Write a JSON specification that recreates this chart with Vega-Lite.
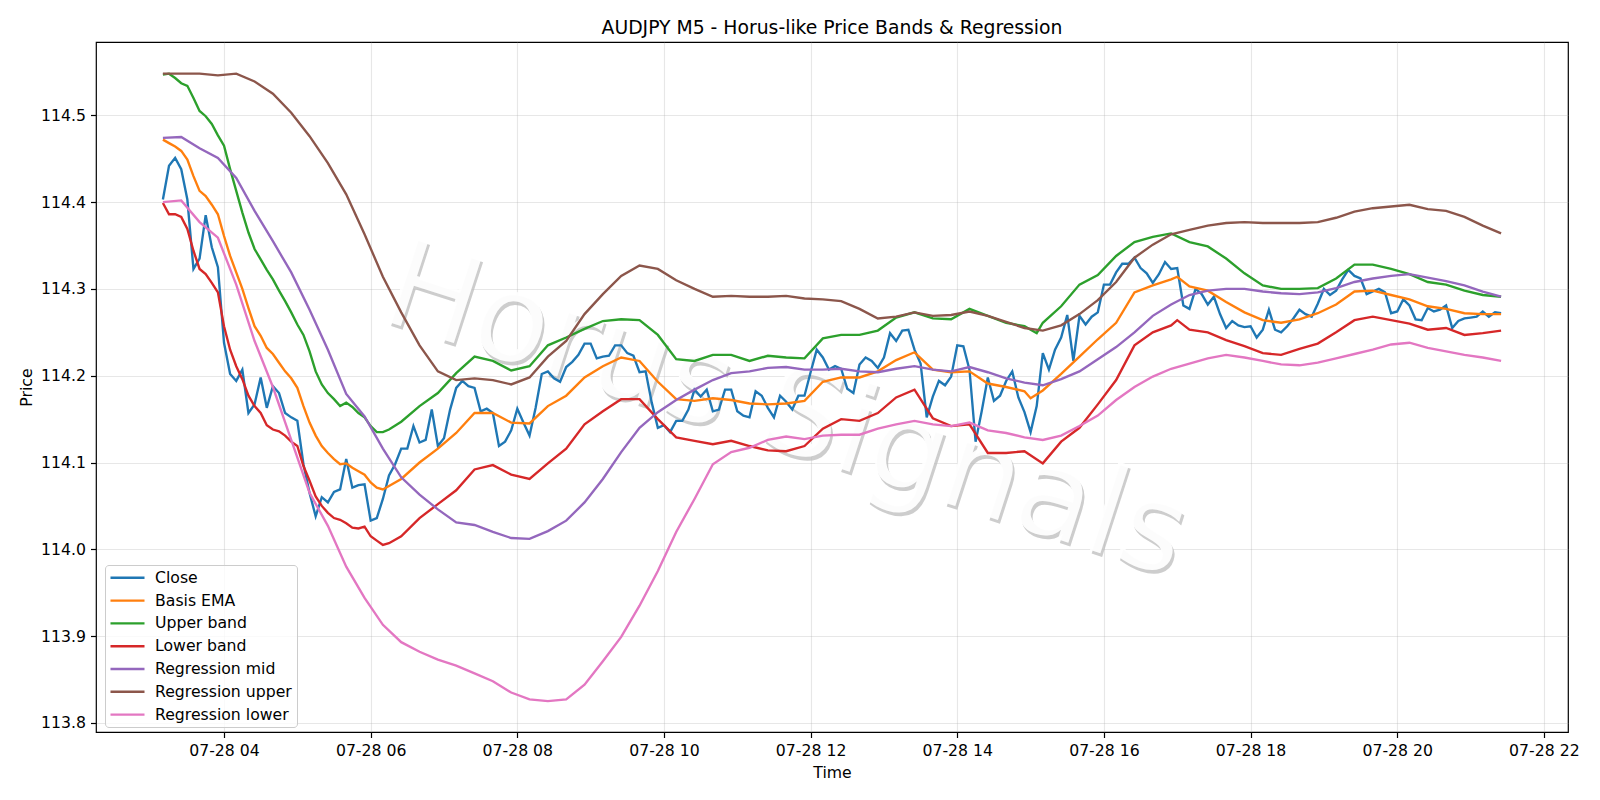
{
"$schema": "https://vega.github.io/schema/vega-lite/v6.json",
"width": 1472, "height": 690,
"autosize": {"type": "none"},
"padding": {"left": 96, "top": 42, "right": 32, "bottom": 68},
"background": "white",
"title": {"text": "AUDJPY M5 - Horus-like Price Bands & Regression", "fontSize": 18.8, "fontWeight": "normal", "font": "DejaVu Sans", "color": "black", "offset": 4, "anchor": "middle"},
"config": {
  "font": "DejaVu Sans",
  "view": {"stroke": "black", "strokeWidth": 1.2},
  "axis": {"domain": false, "grid": true, "gridColor": "#b0b0b0", "gridOpacity": 0.3, "gridWidth": 1.1, "tickColor": "black", "tickSize": 5.5, "tickWidth": 1.2, "labelFontSize": 15.7, "labelColor": "black", "labelFont": "DejaVu Sans", "titleFont": "DejaVu Sans", "titleFontSize": 15.7, "titleFontWeight": "normal", "titleColor": "black"},
  "legend": {"orient": "none", "legendX": 9, "legendY": 523, "symbolType": "M-2.43,0L2.43,0", "symbolSize": 196, "symbolStrokeWidth": 2.36, "symbolFillColor": "transparent", "symbolOffset": 9.7, "labelOffset": 19, "labelFontSize": 15.7, "labelFont": "DejaVu Sans", "labelColor": "black", "rowPadding": 5.8, "padding": 4.3, "fillColor": "rgba(255,255,255,0.8)", "strokeColor": "#cccccc", "cornerRadius": 3.5, "labelLimit": 300}
},
"datasets": {
"wm": [{"t": "2025-07-28T11:40", "v": 114.158, "label": "Horus Signals"}],
"d": [
{"t":"2025-07-28T03:10","Close":114.403,"Basis EMA":114.472,"Upper band":114.547,"Lower band":114.399,"Regression mid":114.474,"Regression upper":114.548,"Regression lower":114.400},
{"t":"2025-07-28T03:15","Close":114.442,"Basis EMA":114.468,"Upper band":114.548,"Lower band":114.386},
{"t":"2025-07-28T03:20","Close":114.451,"Basis EMA":114.464,"Upper band":114.543,"Lower band":114.386},
{"t":"2025-07-28T03:25","Close":114.438,"Basis EMA":114.459,"Upper band":114.537,"Lower band":114.383,"Regression mid":114.475,"Regression upper":114.548,"Regression lower":114.402},
{"t":"2025-07-28T03:30","Close":114.403,"Basis EMA":114.449,"Upper band":114.534,"Lower band":114.369},
{"t":"2025-07-28T03:35","Close":114.323,"Basis EMA":114.430,"Upper band":114.520,"Lower band":114.344},
{"t":"2025-07-28T03:40","Close":114.335,"Basis EMA":114.413,"Upper band":114.505,"Lower band":114.323,"Regression mid":114.462,"Regression upper":114.548,"Regression lower":114.377},
{"t":"2025-07-28T03:45","Close":114.385,"Basis EMA":114.407,"Upper band":114.499,"Lower band":114.317},
{"t":"2025-07-28T03:50","Close":114.348,"Basis EMA":114.397,"Upper band":114.490,"Lower band":114.307},
{"t":"2025-07-28T03:55","Close":114.325,"Basis EMA":114.386,"Upper band":114.477,"Lower band":114.296,"Regression mid":114.451,"Regression upper":114.546,"Regression lower":114.359},
{"t":"2025-07-28T04:00","Close":114.238,"Basis EMA":114.361,"Upper band":114.465,"Lower band":114.257},
{"t":"2025-07-28T04:05","Close":114.202,"Basis EMA":114.338,"Upper band":114.438,"Lower band":114.230},
{"t":"2025-07-28T04:10","Close":114.194,"Basis EMA":114.319,"Upper band":114.413,"Lower band":114.211,"Regression mid":114.428,"Regression upper":114.548,"Regression lower":114.305},
{"t":"2025-07-28T04:15","Close":114.207,"Basis EMA":114.300,"Upper band":114.388,"Lower band":114.196},
{"t":"2025-07-28T04:20","Close":114.157,"Basis EMA":114.278,"Upper band":114.365,"Lower band":114.177},
{"t":"2025-07-28T04:25","Close":114.167,"Basis EMA":114.257,"Upper band":114.346,"Lower band":114.165,"Regression mid":114.390,"Regression upper":114.539,"Regression lower":114.240},
{"t":"2025-07-28T04:30","Close":114.198,"Basis EMA":114.246,"Upper band":114.334,"Lower band":114.157},
{"t":"2025-07-28T04:35","Close":114.163,"Basis EMA":114.232,"Upper band":114.322,"Lower band":114.143},
{"t":"2025-07-28T04:40","Close":114.188,"Basis EMA":114.225,"Upper band":114.311,"Lower band":114.138,"Regression mid":114.355,"Regression upper":114.525,"Regression lower":114.187},
{"t":"2025-07-28T04:45","Close":114.180,"Basis EMA":114.215,"Upper band":114.298,"Lower band":114.136},
{"t":"2025-07-28T04:50","Close":114.157,"Basis EMA":114.205,"Upper band":114.286,"Lower band":114.131},
{"t":"2025-07-28T04:55","Close":114.152,"Basis EMA":114.197,"Upper band":114.273,"Lower band":114.124,"Regression mid":114.319,"Regression upper":114.503,"Regression lower":114.126},
{"t":"2025-07-28T05:00","Close":114.148,"Basis EMA":114.186,"Upper band":114.259,"Lower band":114.119},
{"t":"2025-07-28T05:05","Close":114.098,"Basis EMA":114.165,"Upper band":114.247,"Lower band":114.096},
{"t":"2025-07-28T05:10","Close":114.065,"Basis EMA":114.146,"Upper band":114.228,"Lower band":114.079,"Regression mid":114.276,"Regression upper":114.476,"Regression lower":114.065},
{"t":"2025-07-28T05:15","Close":114.038,"Basis EMA":114.131,"Upper band":114.205,"Lower band":114.061},
{"t":"2025-07-28T05:20","Close":114.060,"Basis EMA":114.119,"Upper band":114.190,"Lower band":114.050},
{"t":"2025-07-28T05:25","Close":114.054,"Basis EMA":114.111,"Upper band":114.180,"Lower band":114.042,"Regression mid":114.230,"Regression upper":114.445,"Regression lower":114.027},
{"t":"2025-07-28T05:30","Close":114.066,"Basis EMA":114.104,"Upper band":114.173,"Lower band":114.036},
{"t":"2025-07-28T05:35","Close":114.069,"Basis EMA":114.098,"Upper band":114.165,"Lower band":114.034},
{"t":"2025-07-28T05:40","Close":114.104,"Basis EMA":114.099,"Upper band":114.169,"Lower band":114.030,"Regression mid":114.179,"Regression upper":114.409,"Regression lower":113.980},
{"t":"2025-07-28T05:45","Close":114.071,"Basis EMA":114.094,"Upper band":114.164,"Lower band":114.025},
{"t":"2025-07-28T05:50","Close":114.074,"Basis EMA":114.090,"Upper band":114.157,"Lower band":114.024},
{"t":"2025-07-28T05:55","Close":114.075,"Basis EMA":114.086,"Upper band":114.152,"Lower band":114.026,"Regression mid":114.153,"Regression upper":114.363,"Regression lower":113.944},
{"t":"2025-07-28T06:00","Close":114.033,"Basis EMA":114.077,"Upper band":114.142,"Lower band":114.015},
{"t":"2025-07-28T06:05","Close":114.036,"Basis EMA":114.071,"Upper band":114.135,"Lower band":114.010},
{"t":"2025-07-28T06:10","Close":114.058,"Basis EMA":114.069,"Upper band":114.135,"Lower band":114.005,"Regression mid":114.116,"Regression upper":114.314,"Regression lower":113.913},
{"t":"2025-07-28T06:15","Close":114.085,"Basis EMA":114.073,"Upper band":114.138,"Lower band":114.007},
{"t":"2025-07-28T06:20","Close":114.098},
{"t":"2025-07-28T06:25","Close":114.116,"Basis EMA":114.081,"Upper band":114.147,"Lower band":114.015,"Regression mid":114.083,"Regression upper":114.273,"Regression lower":113.893},
{"t":"2025-07-28T06:30","Close":114.116},
{"t":"2025-07-28T06:35","Close":114.142},
{"t":"2025-07-28T06:40","Close":114.123,"Basis EMA":114.100,"Upper band":114.165,"Lower band":114.036,"Regression mid":114.063,"Regression upper":114.235,"Regression lower":113.882},
{"t":"2025-07-28T06:45","Close":114.126},
{"t":"2025-07-28T06:50","Close":114.161},
{"t":"2025-07-28T06:55","Close":114.119,"Basis EMA":114.116,"Upper band":114.180,"Lower band":114.052,"Regression mid":114.046,"Regression upper":114.205,"Regression lower":113.873},
{"t":"2025-07-28T07:00","Close":114.128},
{"t":"2025-07-28T07:05","Close":114.161},
{"t":"2025-07-28T07:10","Close":114.186,"Basis EMA":114.134,"Upper band":114.203,"Lower band":114.068,"Regression mid":114.031,"Regression upper":114.195,"Regression lower":113.866},
{"t":"2025-07-28T07:15","Close":114.194},
{"t":"2025-07-28T07:20","Close":114.188},
{"t":"2025-07-28T07:25","Close":114.186,"Basis EMA":114.157,"Upper band":114.222,"Lower band":114.092,"Regression mid":114.028,"Regression upper":114.197,"Regression lower":113.857},
{"t":"2025-07-28T07:30","Close":114.159},
{"t":"2025-07-28T07:35","Close":114.162},
{"t":"2025-07-28T07:40","Close":114.157,"Basis EMA":114.157,"Upper band":114.217,"Lower band":114.097,"Regression mid":114.020,"Regression upper":114.195,"Regression lower":113.848},
{"t":"2025-07-28T07:45","Close":114.119},
{"t":"2025-07-28T07:50","Close":114.124},
{"t":"2025-07-28T07:55","Close":114.137,"Basis EMA":114.146,"Upper band":114.206,"Lower band":114.086,"Regression mid":114.013,"Regression upper":114.190,"Regression lower":113.835},
{"t":"2025-07-28T08:00","Close":114.162},
{"t":"2025-07-28T08:05","Close":114.146},
{"t":"2025-07-28T08:10","Close":114.131,"Basis EMA":114.145,"Upper band":114.211,"Lower band":114.081,"Regression mid":114.012,"Regression upper":114.198,"Regression lower":113.827},
{"t":"2025-07-28T08:15","Close":114.163},
{"t":"2025-07-28T08:20","Close":114.202},
{"t":"2025-07-28T08:25","Close":114.205,"Basis EMA":114.165,"Upper band":114.235,"Lower band":114.099,"Regression mid":114.021,"Regression upper":114.222,"Regression lower":113.825},
{"t":"2025-07-28T08:30","Close":114.197},
{"t":"2025-07-28T08:35","Close":114.193},
{"t":"2025-07-28T08:40","Close":114.210,"Basis EMA":114.177,"Upper band":114.244,"Lower band":114.116,"Regression mid":114.033,"Regression upper":114.240,"Regression lower":113.827},
{"t":"2025-07-28T08:45","Close":114.216},
{"t":"2025-07-28T08:50","Close":114.224},
{"t":"2025-07-28T08:55","Close":114.237,"Basis EMA":114.198,"Upper band":114.254,"Lower band":114.144,"Regression mid":114.054,"Regression upper":114.271,"Regression lower":113.844},
{"t":"2025-07-28T09:00","Close":114.237},
{"t":"2025-07-28T09:05","Close":114.220},
{"t":"2025-07-28T09:10","Close":114.222,"Basis EMA":114.211,"Upper band":114.263,"Lower band":114.159,"Regression mid":114.081,"Regression upper":114.294,"Regression lower":113.871},
{"t":"2025-07-28T09:15","Close":114.223},
{"t":"2025-07-28T09:20","Close":114.235},
{"t":"2025-07-28T09:25","Close":114.235,"Basis EMA":114.221,"Upper band":114.265,"Lower band":114.173,"Regression mid":114.112,"Regression upper":114.315,"Regression lower":113.899},
{"t":"2025-07-28T09:30","Close":114.226},
{"t":"2025-07-28T09:35","Close":114.223},
{"t":"2025-07-28T09:40","Close":114.204,"Basis EMA":114.217,"Upper band":114.264,"Lower band":114.173,"Regression mid":114.140,"Regression upper":114.327,"Regression lower":113.935},
{"t":"2025-07-28T09:45","Close":114.205},
{"t":"2025-07-28T09:50","Close":114.169},
{"t":"2025-07-28T09:55","Close":114.140,"Basis EMA":114.193,"Upper band":114.247,"Lower band":114.150,"Regression mid":114.158,"Regression upper":114.323,"Regression lower":113.975},
{"t":"2025-07-28T10:00","Close":114.143},
{"t":"2025-07-28T10:05","Close":114.135},
{"t":"2025-07-28T10:10","Close":114.148,"Basis EMA":114.173,"Upper band":114.219,"Lower band":114.129,"Regression mid":114.172,"Regression upper":114.310,"Regression lower":114.020},
{"t":"2025-07-28T10:15","Close":114.148},
{"t":"2025-07-28T10:20","Close":114.161},
{"t":"2025-07-28T10:25","Close":114.184,"Basis EMA":114.171,"Upper band":114.217,"Lower band":114.125,"Regression mid":114.184,"Regression upper":114.300,"Regression lower":114.058},
{"t":"2025-07-28T10:30","Close":114.176},
{"t":"2025-07-28T10:35","Close":114.184},
{"t":"2025-07-28T10:40","Close":114.159,"Basis EMA":114.174,"Upper band":114.224,"Lower band":114.121,"Regression mid":114.195,"Regression upper":114.291,"Regression lower":114.098},
{"t":"2025-07-28T10:45","Close":114.161},
{"t":"2025-07-28T10:50","Close":114.184},
{"t":"2025-07-28T10:55","Close":114.184,"Basis EMA":114.172,"Upper band":114.224,"Lower band":114.125,"Regression mid":114.203,"Regression upper":114.292,"Regression lower":114.112},
{"t":"2025-07-28T11:00","Close":114.159},
{"t":"2025-07-28T11:05","Close":114.154},
{"t":"2025-07-28T11:10","Close":114.152,"Basis EMA":114.168,"Upper band":114.217,"Lower band":114.119,"Regression mid":114.205,"Regression upper":114.291,"Regression lower":114.117},
{"t":"2025-07-28T11:15","Close":114.182},
{"t":"2025-07-28T11:20","Close":114.177},
{"t":"2025-07-28T11:25","Close":114.163,"Basis EMA":114.167,"Upper band":114.223,"Lower band":114.114,"Regression mid":114.209,"Regression upper":114.291,"Regression lower":114.126},
{"t":"2025-07-28T11:30","Close":114.152},
{"t":"2025-07-28T11:35","Close":114.177},
{"t":"2025-07-28T11:40","Close":114.170,"Basis EMA":114.168,"Upper band":114.221,"Lower band":114.113,"Regression mid":114.210,"Regression upper":114.292,"Regression lower":114.130},
{"t":"2025-07-28T11:45","Close":114.161},
{"t":"2025-07-28T11:50","Close":114.177},
{"t":"2025-07-28T11:55","Close":114.177,"Basis EMA":114.171,"Upper band":114.220,"Lower band":114.119,"Regression mid":114.207,"Regression upper":114.289,"Regression lower":114.127},
{"t":"2025-07-28T12:00","Close":114.204},
{"t":"2025-07-28T12:05","Close":114.230},
{"t":"2025-07-28T12:10","Close":114.221,"Basis EMA":114.193,"Upper band":114.243,"Lower band":114.139,"Regression mid":114.207,"Regression upper":114.288,"Regression lower":114.131},
{"t":"2025-07-28T12:15","Close":114.207},
{"t":"2025-07-28T12:20","Close":114.211},
{"t":"2025-07-28T12:25","Close":114.208,"Basis EMA":114.198,"Upper band":114.247,"Lower band":114.150,"Regression mid":114.208,"Regression upper":114.286,"Regression lower":114.132},
{"t":"2025-07-28T12:30","Close":114.185},
{"t":"2025-07-28T12:35","Close":114.180},
{"t":"2025-07-28T12:40","Close":114.213,"Basis EMA":114.198,"Upper band":114.247,"Lower band":114.148,"Regression mid":114.205,"Regression upper":114.277,"Regression lower":114.132},
{"t":"2025-07-28T12:45","Close":114.221},
{"t":"2025-07-28T12:50","Close":114.217},
{"t":"2025-07-28T12:55","Close":114.209,"Basis EMA":114.205,"Upper band":114.252,"Lower band":114.157,"Regression mid":114.204,"Regression upper":114.266,"Regression lower":114.139},
{"t":"2025-07-28T13:00","Close":114.221},
{"t":"2025-07-28T13:05","Close":114.249},
{"t":"2025-07-28T13:10","Close":114.240,"Basis EMA":114.218,"Upper band":114.267,"Lower band":114.175,"Regression mid":114.208,"Regression upper":114.268,"Regression lower":114.144},
{"t":"2025-07-28T13:15","Close":114.252},
{"t":"2025-07-28T13:20","Close":114.253},
{"t":"2025-07-28T13:25","Close":114.230,"Basis EMA":114.227,"Upper band":114.273,"Lower band":114.184,"Regression mid":114.211,"Regression upper":114.273,"Regression lower":114.148},
{"t":"2025-07-28T13:30","Close":114.214},
{"t":"2025-07-28T13:35","Close":114.152},
{"t":"2025-07-28T13:40","Close":114.176,"Basis EMA":114.207,"Upper band":114.266,"Lower band":114.151,"Regression mid":114.207,"Regression upper":114.269,"Regression lower":114.144},
{"t":"2025-07-28T13:45","Close":114.194},
{"t":"2025-07-28T13:50","Close":114.189},
{"t":"2025-07-28T13:55","Close":114.199,"Basis EMA":114.204,"Upper band":114.265,"Lower band":114.142,"Regression mid":114.205,"Regression upper":114.270,"Regression lower":114.142},
{"t":"2025-07-28T14:00","Close":114.235},
{"t":"2025-07-28T14:05","Close":114.234},
{"t":"2025-07-28T14:10","Close":114.207,"Basis EMA":114.205,"Upper band":114.277,"Lower band":114.144,"Regression mid":114.210,"Regression upper":114.274,"Regression lower":114.146},
{"t":"2025-07-28T14:15","Close":114.124},
{"t":"2025-07-28T14:20","Close":114.159},
{"t":"2025-07-28T14:25","Close":114.198,"Basis EMA":114.191,"Upper band":114.269,"Lower band":114.111,"Regression mid":114.204,"Regression upper":114.269,"Regression lower":114.137},
{"t":"2025-07-28T14:30","Close":114.171},
{"t":"2025-07-28T14:35","Close":114.177},
{"t":"2025-07-28T14:40","Close":114.194,"Basis EMA":114.187,"Upper band":114.261,"Lower band":114.111,"Regression mid":114.197,"Regression upper":114.262,"Regression lower":114.134},
{"t":"2025-07-28T14:45","Close":114.205},
{"t":"2025-07-28T14:50","Close":114.175},
{"t":"2025-07-28T14:55","Close":114.158,"Basis EMA":114.182,"Upper band":114.257,"Lower band":114.113,"Regression mid":114.192,"Regression upper":114.255,"Regression lower":114.129},
{"t":"2025-07-28T15:00","Close":114.135,"Basis EMA":114.174},
{"t":"2025-07-28T15:05","Close":114.165,"Upper band":114.249},
{"t":"2025-07-28T15:10","Close":114.226,"Basis EMA":114.183,"Upper band":114.261,"Lower band":114.099,"Regression mid":114.189,"Regression upper":114.252,"Regression lower":114.126},
{"t":"2025-07-28T15:15","Close":114.207},
{"t":"2025-07-28T15:20","Close":114.230},
{"t":"2025-07-28T15:25","Close":114.244,"Basis EMA":114.202,"Upper band":114.280,"Lower band":114.124,"Regression mid":114.196,"Regression upper":114.258,"Regression lower":114.131},
{"t":"2025-07-28T15:30","Close":114.270},
{"t":"2025-07-28T15:35","Close":114.217},
{"t":"2025-07-28T15:40","Close":114.269,"Basis EMA":114.222,"Upper band":114.305,"Lower band":114.140,"Regression mid":114.205,"Regression upper":114.271,"Regression lower":114.142},
{"t":"2025-07-28T15:45","Close":114.259},
{"t":"2025-07-28T15:50","Close":114.268},
{"t":"2025-07-28T15:55","Close":114.273,"Basis EMA":114.242,"Upper band":114.316,"Lower band":114.167,"Regression mid":114.219,"Regression upper":114.287,"Regression lower":114.154},
{"t":"2025-07-28T16:00","Close":114.305},
{"t":"2025-07-28T16:05","Close":114.305},
{"t":"2025-07-28T16:10","Close":114.319,"Basis EMA":114.261,"Upper band":114.338,"Lower band":114.195,"Regression mid":114.233,"Regression upper":114.308,"Regression lower":114.172},
{"t":"2025-07-28T16:15","Close":114.329},
{"t":"2025-07-28T16:20","Close":114.329},
{"t":"2025-07-28T16:25","Close":114.336,"Basis EMA":114.296,"Upper band":114.354,"Lower band":114.235,"Regression mid":114.250,"Regression upper":114.336,"Regression lower":114.187},
{"t":"2025-07-28T16:30","Close":114.324},
{"t":"2025-07-28T16:35","Close":114.318},
{"t":"2025-07-28T16:40","Close":114.307,"Basis EMA":114.304,"Upper band":114.360,"Lower band":114.250,"Regression mid":114.269,"Regression upper":114.351,"Regression lower":114.199},
{"t":"2025-07-28T16:45","Close":114.317},
{"t":"2025-07-28T16:50","Close":114.331},
{"t":"2025-07-28T16:55","Close":114.323,"Basis EMA":114.311,"Upper band":114.364,"Lower band":114.258,"Regression mid":114.282,"Regression upper":114.363,"Regression lower":114.208},
{"t":"2025-07-28T17:00","Close":114.324,"Basis EMA":114.314,"Lower band":114.264},
{"t":"2025-07-28T17:05","Close":114.281},
{"t":"2025-07-28T17:10","Close":114.277,"Basis EMA":114.303,"Upper band":114.354,"Lower band":114.253,"Regression mid":114.293,"Regression upper":114.368,"Regression lower":114.214},
{"t":"2025-07-28T17:15","Close":114.300},
{"t":"2025-07-28T17:20","Close":114.294},
{"t":"2025-07-28T17:25","Close":114.282,"Basis EMA":114.298,"Upper band":114.349,"Lower band":114.250,"Regression mid":114.298,"Regression upper":114.373,"Regression lower":114.220},
{"t":"2025-07-28T17:30","Close":114.291},
{"t":"2025-07-28T17:35","Close":114.271},
{"t":"2025-07-28T17:40","Close":114.255,"Basis EMA":114.285,"Upper band":114.335,"Lower band":114.241,"Regression mid":114.300,"Regression upper":114.376,"Regression lower":114.224},
{"t":"2025-07-28T17:45","Close":114.263},
{"t":"2025-07-28T17:50","Close":114.258},
{"t":"2025-07-28T17:55","Close":114.256,"Basis EMA":114.273,"Upper band":114.318,"Lower band":114.234,"Regression mid":114.300,"Regression upper":114.377,"Regression lower":114.221},
{"t":"2025-07-28T18:00","Close":114.257},
{"t":"2025-07-28T18:05","Close":114.244},
{"t":"2025-07-28T18:10","Close":114.253,"Basis EMA":114.264,"Upper band":114.304,"Lower band":114.226,"Regression mid":114.297,"Regression upper":114.376,"Regression lower":114.217},
{"t":"2025-07-28T18:15","Close":114.276},
{"t":"2025-07-28T18:20","Close":114.253},
{"t":"2025-07-28T18:25","Close":114.250,"Basis EMA":114.261,"Upper band":114.300,"Lower band":114.224,"Regression mid":114.295,"Regression upper":114.376,"Regression lower":114.213},
{"t":"2025-07-28T18:30","Close":114.257},
{"t":"2025-07-28T18:35","Close":114.266},
{"t":"2025-07-28T18:40","Close":114.276,"Basis EMA":114.265,"Upper band":114.300,"Lower band":114.231,"Regression mid":114.294,"Regression upper":114.376,"Regression lower":114.212},
{"t":"2025-07-28T18:45","Close":114.271},
{"t":"2025-07-28T18:50","Close":114.268},
{"t":"2025-07-28T18:55","Close":114.283,"Basis EMA":114.272,"Upper band":114.301,"Lower band":114.237,"Regression mid":114.296,"Regression upper":114.377,"Regression lower":114.215},
{"t":"2025-07-28T19:00","Close":114.300},
{"t":"2025-07-28T19:05","Close":114.293},
{"t":"2025-07-28T19:10","Close":114.298,"Basis EMA":114.282,"Upper band":114.312,"Lower band":114.250,"Regression mid":114.301,"Regression upper":114.382,"Regression lower":114.220},
{"t":"2025-07-28T19:15","Close":114.311},
{"t":"2025-07-28T19:20","Close":114.322},
{"t":"2025-07-28T19:25","Close":114.315,"Basis EMA":114.297,"Upper band":114.328,"Lower band":114.264,"Regression mid":114.308,"Regression upper":114.389,"Regression lower":114.225},
{"t":"2025-07-28T19:30","Close":114.312},
{"t":"2025-07-28T19:35","Close":114.294},
{"t":"2025-07-28T19:40","Close":114.297,"Basis EMA":114.298,"Upper band":114.328,"Lower band":114.268,"Regression mid":114.312,"Regression upper":114.393,"Regression lower":114.230},
{"t":"2025-07-28T19:45","Close":114.300},
{"t":"2025-07-28T19:50","Close":114.296},
{"t":"2025-07-28T19:55","Close":114.272,"Basis EMA":114.293,"Upper band":114.323,"Lower band":114.264,"Regression mid":114.315,"Regression upper":114.395,"Regression lower":114.236},
{"t":"2025-07-28T20:00","Close":114.274},
{"t":"2025-07-28T20:05","Close":114.288},
{"t":"2025-07-28T20:10","Close":114.281,"Basis EMA":114.288,"Upper band":114.317,"Lower band":114.260,"Regression mid":114.317,"Regression upper":114.397,"Regression lower":114.238},
{"t":"2025-07-28T20:15","Close":114.265},
{"t":"2025-07-28T20:20","Close":114.264},
{"t":"2025-07-28T20:25","Close":114.278,"Basis EMA":114.280,"Upper band":114.308,"Lower band":114.253,"Regression mid":114.313,"Regression upper":114.392,"Regression lower":114.232},
{"t":"2025-07-28T20:30","Close":114.274},
{"t":"2025-07-28T20:35","Close":114.276},
{"t":"2025-07-28T20:40","Close":114.281,"Basis EMA":114.277,"Upper band":114.305,"Lower band":114.255,"Regression mid":114.309,"Regression upper":114.390,"Regression lower":114.228},
{"t":"2025-07-28T20:45","Close":114.255},
{"t":"2025-07-28T20:50","Close":114.263},
{"t":"2025-07-28T20:55","Close":114.266,"Basis EMA":114.272,"Upper band":114.298,"Lower band":114.247,"Regression mid":114.304,"Regression upper":114.383,"Regression lower":114.224},
{"t":"2025-07-28T21:00","Close":114.267},
{"t":"2025-07-28T21:05","Close":114.268},
{"t":"2025-07-28T21:10","Close":114.274,"Basis EMA":114.271,"Upper band":114.293,"Lower band":114.249,"Regression mid":114.297,"Regression upper":114.373,"Regression lower":114.221},
{"t":"2025-07-28T21:15","Close":114.268},
{"t":"2025-07-28T21:20","Close":114.273},
{"t":"2025-07-28T21:25","Close":114.272,"Basis EMA":114.271,"Upper band":114.291,"Lower band":114.252,"Regression mid":114.291,"Regression upper":114.364,"Regression lower":114.217}
]
},
"layer": [
  {"data": {"name": "wm"},
   "mark": {"type": "text", "angle": 18, "fontSize": 122, "font": "DejaVu Sans", "color": "#bdbdbd", "opacity": 0.75, "dx": 3, "dy": 3, "align": "center", "baseline": "middle"},
   "encoding": {
     "x": {"field": "t", "type": "temporal"},
     "y": {"field": "v", "type": "quantitative"},
     "text": {"field": "label"}}},
  {"data": {"name": "wm"},
   "mark": {"type": "text", "angle": 18, "fontSize": 122, "font": "DejaVu Sans", "color": "white", "opacity": 0.95, "align": "center", "baseline": "middle"},
   "encoding": {
     "x": {"field": "t", "type": "temporal"},
     "y": {"field": "v", "type": "quantitative"},
     "text": {"field": "label"}}},
  {"data": {"name": "d"},
   "transform": [
     {"fold": ["Close", "Basis EMA", "Upper band", "Lower band", "Regression mid", "Regression upper", "Regression lower"], "as": ["series", "v"]},
     {"filter": "isValid(datum.v)"}
   ],
   "mark": {"type": "line", "strokeWidth": 2.36},
   "encoding": {
     "x": {"field": "t", "type": "temporal", "title": "Time",
        "scale": {"domain": [{"year": 2025, "month": 7, "date": 28, "hours": 2, "minutes": 15, "seconds": 15}, {"year": 2025, "month": 7, "date": 28, "hours": 22, "minutes": 19, "seconds": 45}]},
        "axis": {"format": "%m-%d %H", "values": [{"year": 2025, "month": 7, "date": 28, "hours": 4}, {"year": 2025, "month": 7, "date": 28, "hours": 6}, {"year": 2025, "month": 7, "date": 28, "hours": 8}, {"year": 2025, "month": 7, "date": 28, "hours": 10}, {"year": 2025, "month": 7, "date": 28, "hours": 12}, {"year": 2025, "month": 7, "date": 28, "hours": 14}, {"year": 2025, "month": 7, "date": 28, "hours": 16}, {"year": 2025, "month": 7, "date": 28, "hours": 18}, {"year": 2025, "month": 7, "date": 28, "hours": 20}, {"year": 2025, "month": 7, "date": 28, "hours": 22}], "labelPadding": 5.5, "titlePadding": 8, "labelFlush": false, "labelOverlap": false}},
     "y": {"field": "v", "type": "quantitative", "title": "Price",
        "scale": {"domain": [113.7895, 114.5845], "zero": false, "nice": false},
        "axis": {"values": [113.8, 113.9, 114.0, 114.1, 114.2, 114.3, 114.4, 114.5], "format": ".1f", "labelPadding": 5, "titlePadding": 6}},
     "color": {"field": "series", "type": "nominal", "title": null,
       "scale": {"domain": ["Close", "Basis EMA", "Upper band", "Lower band", "Regression mid", "Regression upper", "Regression lower"],
                 "range": ["#1f77b4", "#ff7f0e", "#2ca02c", "#d62728", "#9467bd", "#8c564b", "#e377c2"]}}
   }}
]
}
